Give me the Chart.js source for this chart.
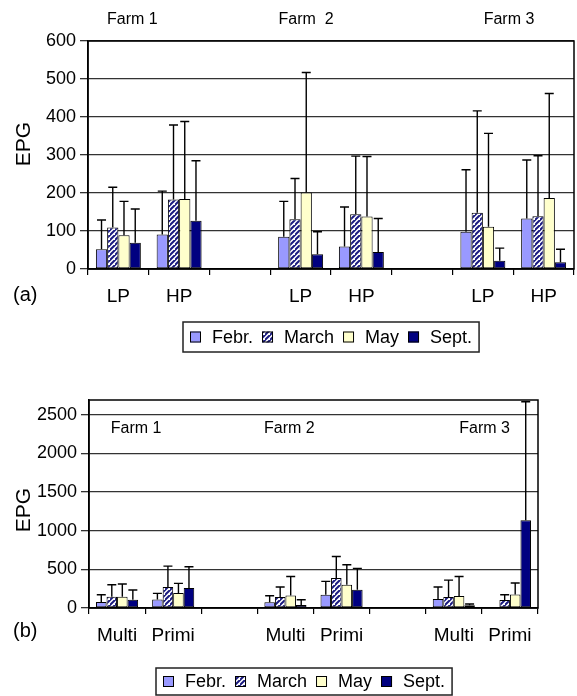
<!DOCTYPE html>
<html><head><meta charset="utf-8">
<script src="https://cdn.jsdelivr.net/npm/chart.js@4"></script>
<style>
html,body{margin:0;padding:0;background:#fff;}
#wrapA{position:absolute;left:0;top:0;width:577px;height:360px;}
#wrapB{position:absolute;left:0;top:360px;width:577px;height:336px;}
canvas{display:block;}
</style></head><body>
<div id="wrapA"><canvas id="cA" width="577" height="360"></canvas></div>
<div id="wrapB"><canvas id="cB" width="577" height="336"></canvas></div>
<script>
// ---------- data ----------
const seriesNames = ['Febr.', 'March', 'May', 'Sept.'];

// Panel (a)
const catsA = ['LP', 'HP', '', 'LP', 'HP', '', 'LP', 'HP'];
const febA    = [52, 91, null, 85, 59, null, 98, 133];
const febErrA = [129, 205, null, 178, 163, null, 261, 287];
const marA    = [109, 183, null, 131, 144, null, 148, 139];
const marErrA = [215, 379, null, 238, 297, null, 416, 298];
const mayA    = [89, 184, null, 201, 138, null, 111, 187];
const mayErrA = [178, 388, null, 517, 296, null, 357, 462];
const sepA    = [69, 127, null, 39, 45, null, 22, 18];
const sepErrA = [158, 285, null, 98, 133, null, 55, 52];
const yTicksA = [0, 100, 200, 300, 400, 500, 600];
const farmLabelsA = ['Farm 1', 'Farm  2', 'Farm 3'];
const farmPosA = [0.23, 3.09, 6.43];

// Panel (b)
const catsB = ['Multi', 'Primi', '', 'Multi', 'Primi', '', 'Multi', 'Primi'];
const febB    = [77, 111, null, 73, 172, null, 116, 0];
const febErrB = [172, 189, null, 159, 344, null, 271, null];
const marB    = [146, 271, null, 142, 387, null, 142, 103];
const marErrB = [301, 542, null, 271, 666, null, 361, 172];
const mayB    = [146, 194, null, 163, 301, null, 155, 176];
const mayErrB = [310, 318, null, 408, 559, null, 408, 323];
const sepB    = [107, 258, null, 39, 236, null, 34, 1136];
const sepErrB = [232, 533, null, 107, 512, null, 52, 2668];
const yTicksB = [0, 500, 1000, 1500, 2000, 2500];
const farmLabelsB = ['Farm 1', 'Farm 2', 'Farm 3'];
const farmPosB = [0.34, 3.07, 6.55];

// ---------- styles ----------
const FONT = '"Liberation Sans", Arial, Helvetica, sans-serif';
function hatch() {
  const s = 5;
  const c = document.createElement('canvas'); c.width = s; c.height = s;
  const g = c.getContext('2d');
  g.fillStyle = '#ffffff'; g.fillRect(0, 0, s, s);
  g.strokeStyle = '#1a1a80'; g.lineWidth = 2;
  g.beginPath();
  g.moveTo(-1, s + 1); g.lineTo(s + 1, -1);
  g.moveTo(-1 - s, s + 1); g.lineTo(1, -1);
  g.moveTo(s - 1, 2 * s + 1); g.lineTo(2 * s + 1, s - 1);
  g.stroke();
  return g.createPattern(c, 'repeat');
}
const fills = ['#9999ff', hatch(), '#ffffcc', '#000080'];

function makeDatasets(vals, errs) {
  return vals.map((v, i) => ({
    label: seriesNames[i], data: v, errTop: errs[i],
    backgroundColor: fills[i], borderColor: '#000', borderWidth: 1,
    borderSkipped: false
  }));
}

// ---------- plugins ----------
const errorBars = {
  id: 'errorBars',
  afterDatasetsDraw(chart) {
    const ctx = chart.ctx, ys = chart.scales.y;
    ctx.save();
    ctx.strokeStyle = '#000'; ctx.lineWidth = 1.4;
    chart.data.datasets.forEach((ds, d) => {
      const meta = chart.getDatasetMeta(d);
      meta.data.forEach((el, i) => {
        const e = ds.errTop[i];
        if (e == null || ds.data[i] == null) return;
        const yt = ys.getPixelForValue(e);
        ctx.beginPath();
        ctx.moveTo(el.x, el.y); ctx.lineTo(el.x, yt);
        ctx.moveTo(el.x - 4.5, yt); ctx.lineTo(el.x + 4.5, yt);
        ctx.stroke();
      });
    });
    ctx.restore();
  }
};

const decor = {
  id: 'decor',
  afterDraw(chart, args, o) {
    const ctx = chart.ctx, ca = chart.chartArea, xs = chart.scales.x;
    ctx.save();
    // frame
    ctx.strokeStyle = '#000'; ctx.lineWidth = 1.5;
    ctx.strokeRect(ca.left, ca.top, ca.right - ca.left, ca.bottom - ca.top);
    // farm labels
    ctx.fillStyle = '#000';
    ctx.font = '16px ' + FONT; ctx.textAlign = 'center'; ctx.textBaseline = 'middle';
    o.farmLabels.forEach((t, i) => ctx.fillText(t, xs.getPixelForValue(o.farmPos[i]), o.farmY));
    // panel label
    ctx.font = '20px ' + FONT; ctx.textAlign = 'left'; ctx.textBaseline = 'alphabetic';
    ctx.fillText(o.panel, 13, o.panelBase);
    // EPG
    ctx.save();
    ctx.translate(o.epgX, o.epgY); ctx.rotate(-Math.PI / 2);
    ctx.font = '21px ' + FONT; ctx.textAlign = 'center'; ctx.textBaseline = 'middle';
    ctx.fillText('EPG', 0, 0);
    ctx.restore();
    // legend
    ctx.font = '18px ' + FONT; ctx.textBaseline = 'middle'; ctx.textAlign = 'left';
    const sw = 11, g1 = 11, g2 = 9, pad = 7;
    const ws = chart.data.datasets.map(d => ctx.measureText(d.label).width);
    const total = pad * 2 + ws.reduce((a, w) => a + sw + g1 + w, 0) + g2 * (ws.length - 1);
    const x0 = Math.round(o.legCx - total / 2);
    ctx.strokeStyle = '#222'; ctx.lineWidth = 1.5;
    ctx.strokeRect(x0, o.legTop, total, o.legH);
    let x = x0 + pad; const cy = o.legTop + o.legH / 2;
    chart.data.datasets.forEach((d, i) => {
      ctx.fillStyle = d.backgroundColor;
      ctx.fillRect(x, cy - sw / 2, sw, sw);
      ctx.strokeStyle = '#000'; ctx.lineWidth = 1;
      ctx.strokeRect(x + 0.5, cy - sw / 2 + 0.5, sw - 1, sw - 1);
      ctx.fillStyle = '#000';
      ctx.fillText(d.label, x + sw + g1, cy + 1);
      x += sw + g1 + ws[i] + g2;
    });
    ctx.restore();
  }
};

function makeChart(id, cats, datasets, yMax, yTicks, pad, yW, xH, catPct, dec) {
  return new Chart(document.getElementById(id), {
    type: 'bar',
    data: { labels: cats, datasets },
    plugins: [errorBars, decor],
    options: {
      responsive: false, animation: false, devicePixelRatio: 1,
      layout: { padding: pad },
      datasets: { bar: { categoryPercentage: catPct, barPercentage: 1.0 } },
      plugins: { legend: { display: false }, tooltip: { enabled: false }, decor: dec },
      scales: {
        x: {
          afterFit(s) { s.height = xH; },
          grid: { drawOnChartArea: false, drawTicks: true, tickLength: 6, color: '#000', lineWidth: 1.2 },
          border: { display: true, color: '#000', width: 1.5 },
          ticks: { color: '#000', font: { family: FONT, size: 19 }, padding: 10, maxRotation: 0, autoSkip: false }
        },
        y: {
          min: 0, max: yMax,
          afterFit(s) { s.width = yW; },
          afterBuildTicks(s) { s.ticks = yTicks.map(v => ({ value: v })); },
          grid: { color: '#333', lineWidth: 1.3, drawTicks: true, tickLength: 8 },
          border: { display: true, color: '#000', width: 1.5 },
          ticks: { color: '#000', font: { family: FONT, size: 18 }, padding: 4,
                   callback: v => String(v) }
        }
      }
    }
  });
}

makeChart('cA', catsA,
  makeDatasets([febA, marA, mayA, sepA], [febErrA, marErrA, mayErrA, sepErrA]),
  600, yTicksA, { left: 0, top: 41, right: 3, bottom: 0 }, 88, 91, 0.74,
  { farmLabels: farmLabelsA, farmPos: farmPosA, farmY: 20, panel: '(a)', panelBase: 301,
    epgX: 24, epgY: 144, legCx: 331, legTop: 322, legH: 30 });

makeChart('cB', catsB,
  makeDatasets([febB, marB, mayB, sepB], [febErrB, marErrB, mayErrB, sepErrB]),
  2690, yTicksB, { left: 0, top: 40, right: 39, bottom: 0 }, 89, 88, 0.75,
  { farmLabels: farmLabelsB, farmPos: farmPosB, farmY: 68.5, panel: '(b)', panelBase: 277,
    epgX: 24, epgY: 150, legCx: 304, legTop: 308, legH: 27 });
</script>
</body></html>
